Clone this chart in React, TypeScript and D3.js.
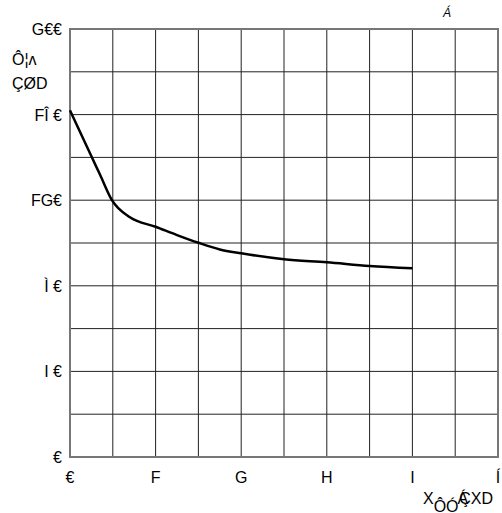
import React, { useEffect, useRef } from 'react';
import * as d3 from 'd3';

// Data (labels are kept exactly as they appear in the picture)
const xTicks = [0, 1, 2, 3, 4, 5];
const xTickLabels = ['€', 'F', 'G', 'H', 'I', 'Í'];
const yTicks = [0, 40, 80, 120, 160, 200];
const yTickLabels = ['€', 'I €', 'Ì €', 'FG€', 'FÎ €', 'G€€'];
const curveX = [0, 0.25, 0.35, 0.49, 0.7, 1.0, 1.25, 1.5, 1.75, 2.0, 2.5, 3.0, 3.5, 4.0];
const curveY = [162, 140.5, 132, 120, 112, 107.6, 103.7, 100.1, 97, 95.2, 92.4, 91, 89.3, 88.2];

const App = () => {
  const chartRef = useRef<HTMLDivElement>(null);

  useEffect(() => {
    const W = 502;
    const H = 513;
    const margin = { top: 29, right: 4, bottom: 56, left: 70 };
    const width = W - margin.left - margin.right;
    const height = H - margin.top - margin.bottom;

    d3.select(chartRef.current).select('svg').remove();

    const root = d3.select(chartRef.current)
      .append('svg')
      .attr('width', W)
      .attr('height', H)
      .style('display', 'block')
      .style('font-family', '"Liberation Sans", Arial, sans-serif');

    root.append('rect').attr('width', W).attr('height', H).attr('fill', 'white');

    const svg = root.append('g')
      .attr('transform', `translate(${margin.left},${margin.top})`);

    const x = d3.scaleLinear().domain([0, 5]).range([0, width]);
    const y = d3.scaleLinear().domain([0, 200]).range([height, 0]);

    // Grid
    svg.append('g')
      .selectAll('line')
      .data(d3.range(0, 5.01, 0.5))
      .enter()
      .append('line')
      .attr('x1', d => x(d))
      .attr('x2', d => x(d))
      .attr('y1', 0)
      .attr('y2', height)
      .attr('stroke', '#222')
      .attr('stroke-width', 1);

    svg.append('g')
      .selectAll('line')
      .data(d3.range(0, 200.1, 20))
      .enter()
      .append('line')
      .attr('x1', 0)
      .attr('x2', width)
      .attr('y1', d => y(d))
      .attr('y2', d => y(d))
      .attr('stroke', '#222')
      .attr('stroke-width', 1);

    // Border
    svg.append('rect')
      .attr('width', width)
      .attr('height', height)
      .attr('fill', 'none')
      .attr('stroke', '#777')
      .attr('stroke-width', 2);

    // Y tick labels
    svg.append('g')
      .selectAll('text')
      .data(yTicks)
      .enter()
      .append('text')
      .attr('x', -8)
      .attr('y', d => y(d) + 6)
      .attr('text-anchor', 'end')
      .attr('font-size', '16px')
      .text((d, i) => yTickLabels[i]);

    // X tick labels
    svg.append('g')
      .selectAll('text')
      .data(xTicks)
      .enter()
      .append('text')
      .attr('x', d => x(d))
      .attr('y', height + 26)
      .attr('text-anchor', 'middle')
      .attr('font-size', '16px')
      .text((d, i) => xTickLabels[i]);

    // Curve
    const pts: [number, number][] = curveX.map((d, i) => [d, curveY[i]]);
    svg.append('path')
      .datum(pts)
      .attr('fill', 'none')
      .attr('stroke', 'black')
      .attr('stroke-width', 2.5)
      .attr('d', d3.line<[number, number]>()
        .x(d => x(d[0]))
        .y(d => y(d[1]))
        .curve(d3.curveMonotoneX));

    // Y axis label
    root.append('text')
      .attr('x', 12)
      .attr('y', 65)
      .attr('font-size', '16px')
      .text('Ô¦ʌ');
    root.append('text')
      .attr('x', 12)
      .attr('y', 89)
      .attr('font-size', '16px')
      .text('ÇØD');

    // X axis label
    const xl = root.append('text')
      .attr('x', 423)
      .attr('y', 504)
      .attr('font-size', '16px');
    xl.append('tspan').text('X');
    xl.append('tspan').attr('dy', 8).text('ÔÓ');
    xl.append('tspan').attr('dy', -8).attr('dx', -1).text('Á');
    xl.append('tspan').attr('dx', -9).text('ÇXD');

    // Title
    root.append('text')
      .attr('x', 447)
      .attr('y', 17)
      .attr('text-anchor', 'middle')
      .attr('font-size', '12px')
      .attr('font-style', 'italic')
      .text('Á');
  }, []);

  return (
    <div ref={chartRef} style={{ position: 'absolute', left: 0, top: 0 }}></div>
  );
};

export default App;
